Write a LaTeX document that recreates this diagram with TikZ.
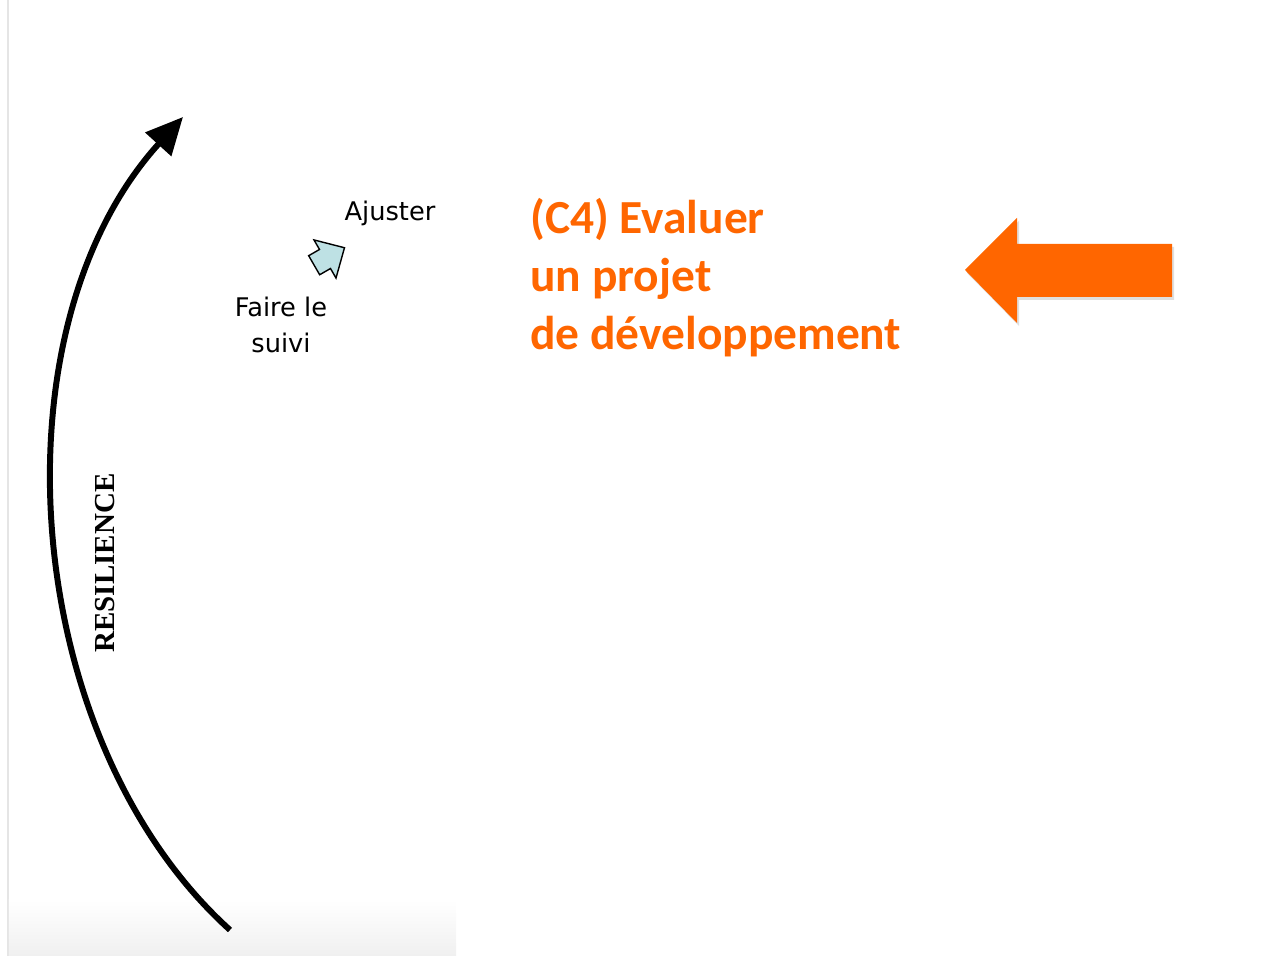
\documentclass[tikz,border=0pt]{standalone}
\usepackage{fontspec}
\usepackage{tikz}
\usetikzlibrary{arrows.meta,shadows}

\newfontfamily\labelfont{DejaVu Sans}
\newfontfamily\titlefont{Carlito}
\newfontfamily\axisfont{Liberation Serif}

\definecolor{projorange}{RGB}{255,102,0}
\definecolor{stepblue}{RGB}{190,225,228}

\begin{document}
\begin{tikzpicture}

\useasboundingbox (0, 0) rectangle (25.66, 19.12);

%Frame
\draw [gray!20, line width=0.6pt] (0.16, 0) -- (0.16, 19.12);
\shade [top color=white, bottom color=gray!12] (0.18, 0) rectangle (9.12, 1.12);

%Resilience axis
\draw [line width=3.4pt, -{Triangle[length=0.74cm, width=0.68cm]}]
	(4.60, 0.52) .. controls (0.40, 4.32) and (-0.20, 12.52) .. (3.66, 16.78);
\node (resilience) at (2.10, 7.86) [rotate=90, font=\axisfont\bfseries\fontsize{16.5}{20}\selectfont] {RESILIENCE};

%Cycle step
\begin{scope}[every node/.style={font=\labelfont\fontsize{14.6}{20.5}\selectfont, align=center}]
	\node (ajuster) at (7.80, 14.86) {Ajuster};
	\node (suivi) at (5.62, 12.62) {Faire le\\suivi};
\end{scope}

\begin{scope}[shift={(6.50, 13.94)}, rotate=30]
	\filldraw [fill=stepblue, draw=black, line width=0.8pt, line join=miter]
		(0.45, 0) -- (0, 0.44) -- (0, 0.22) -- (-0.25, 0.22) -- (-0.25, -0.22)
		-- (0, -0.22) -- (0, -0.44) -- cycle;
\end{scope}

%Title
\node (titre) at (10.60, 15.16) [anchor=north west, align=left, text=projorange,
	font=\titlefont\bfseries\fontsize{27}{33}\selectfont, inner sep=0pt]
	{(C4) Evaluer\\un projet\\de d\'eveloppement};

%Pointer
\fill [projorange, drop shadow={opacity=0.25, shadow xshift=0.04cm, shadow yshift=-0.06cm}]
	(19.30, 13.72) -- (20.34, 14.76) -- (20.34, 14.24) -- (23.44, 14.24)
	-- (23.44, 13.18) -- (20.34, 13.18) -- (20.34, 12.66) -- cycle;

\end{tikzpicture}
\end{document}
